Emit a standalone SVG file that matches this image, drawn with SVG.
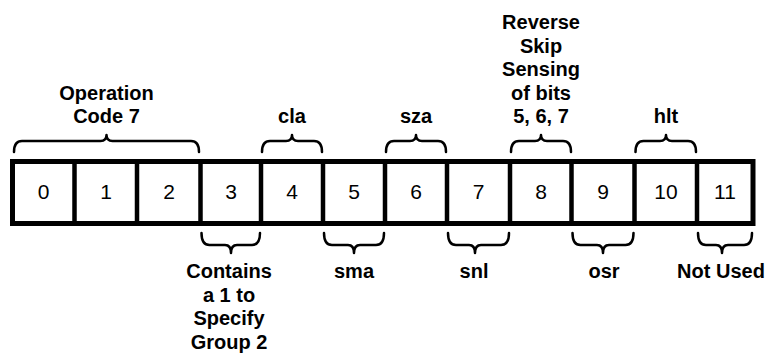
<svg xmlns="http://www.w3.org/2000/svg" width="770" height="353" viewBox="0 0 770 353">
<style>
.lbl{font-family:"Liberation Sans",Arial,sans-serif;font-size:20px;font-weight:bold;fill:#000;text-anchor:middle}
.num{font-family:"Liberation Sans",Arial,sans-serif;font-size:21px;fill:#000;text-anchor:middle}
.brace{fill:none;stroke:#000;stroke-width:2.5;stroke-linecap:round;stroke-linejoin:round}
.div{stroke:#000;stroke-width:4.5}
</style>
<rect width="770" height="353" fill="#fff"/>
<g id="register">
<rect x="12.5" y="161.5" width="740.5" height="62" fill="#fff" stroke="#000" stroke-width="5"/>
<line class="div" x1="74.5" y1="161.5" x2="74.5" y2="223.5"/>
<line class="div" x1="137" y1="161.5" x2="137" y2="223.5"/>
<line class="div" x1="200.5" y1="161.5" x2="200.5" y2="223.5"/>
<line class="div" x1="261" y1="161.5" x2="261" y2="223.5"/>
<line class="div" x1="323" y1="161.5" x2="323" y2="223.5"/>
<line class="div" x1="385" y1="161.5" x2="385" y2="223.5"/>
<line class="div" x1="447" y1="161.5" x2="447" y2="223.5"/>
<line class="div" x1="510" y1="161.5" x2="510" y2="223.5"/>
<line class="div" x1="571.5" y1="161.5" x2="571.5" y2="223.5"/>
<line class="div" x1="634.5" y1="161.5" x2="634.5" y2="223.5"/>
<line class="div" x1="697" y1="161.5" x2="697" y2="223.5"/>
</g>
<g id="bits">
<text class="num" x="43.5" y="199">0</text>
<text class="num" x="106" y="199">1</text>
<text class="num" x="169" y="199">2</text>
<text class="num" x="231" y="199">3</text>
<text class="num" x="292" y="199">4</text>
<text class="num" x="354" y="199">5</text>
<text class="num" x="416" y="199">6</text>
<text class="num" x="478.5" y="199">7</text>
<text class="num" x="541" y="199">8</text>
<text class="num" x="603" y="199">9</text>
<text class="num" x="666" y="199">10</text>
<text class="num" x="725" y="199">11</text>
</g>
<g id="connectors">
<path class="brace" d="M14,152 Q14,141 22,141 L100.5,141 Q106.5,141 106.5,135 Q106.5,141 112.5,141 L191,141 Q199,141 199,152"/>
<path class="brace" d="M262,152 Q262,141 270,141 L286,141 Q292,141 292,135 Q292,141 298,141 L314,141 Q322,141 322,152"/>
<path class="brace" d="M386,152 Q386,141 394,141 L410,141 Q416,141 416,135 Q416,141 422,141 L438,141 Q446,141 446,152"/>
<path class="brace" d="M511,152 Q511,141 519,141 L535,141 Q541,141 541,135 Q541,141 547,141 L563,141 Q571,141 571,152"/>
<path class="brace" d="M635.5,152 Q635.5,141 643.5,141 L660,141 Q666,141 666,135 Q666,141 672,141 L688,141 Q696,141 696,152"/>
<path class="brace" d="M201.5,233 Q201.5,245 209.5,245 L225,245 Q231,245 231,253 Q231,245 237,245 L252,245 Q260,245 260,233"/>
<path class="brace" d="M324,233 Q324,245 332,245 L348,245 Q354,245 354,253 Q354,245 360,245 L376,245 Q384,245 384,233"/>
<path class="brace" d="M448,233 Q448,245 456,245 L469,245 Q475,245 475,253 Q475,245 481,245 L501,245 Q509,245 509,233"/>
<path class="brace" d="M572.5,233 Q572.5,245 580.5,245 L597,245 Q603,245 603,253 Q603,245 609,245 L625.5,245 Q633.5,245 633.5,233"/>
<path class="brace" d="M698,233 Q698,245 706,245 L716,245 Q722,245 722,253 Q722,245 728,245 L744,245 Q752,245 752,233"/>
</g>
<g id="label-opcode">
<text class="lbl" x="106.5" y="100">Operation</text>
<text class="lbl" x="106.5" y="123">Code 7</text>
</g>
<g id="label-cla"><text class="lbl" x="292" y="123">cla</text></g>
<g id="label-sza"><text class="lbl" x="416" y="123">sza</text></g>
<g id="label-reverse">
<text class="lbl" x="541" y="29">Reverse</text>
<text class="lbl" x="541" y="52.5">Skip</text>
<text class="lbl" x="541" y="76">Sensing</text>
<text class="lbl" x="541" y="99.5">of bits</text>
<text class="lbl" x="541" y="123">5, 6, 7</text>
</g>
<g id="label-hlt"><text class="lbl" x="666" y="123">hlt</text></g>
<g id="label-group">
<text class="lbl" x="229" y="278">Contains</text>
<text class="lbl" x="229" y="301.5">a 1 to</text>
<text class="lbl" x="229" y="325">Specify</text>
<text class="lbl" x="229" y="348.5">Group 2</text>
</g>
<g id="label-sma"><text class="lbl" x="354" y="278">sma</text></g>
<g id="label-snl"><text class="lbl" x="474" y="278">snl</text></g>
<g id="label-osr"><text class="lbl" x="604" y="278">osr</text></g>
<g id="label-notused"><text class="lbl" x="721" y="278">Not Used</text></g>
</svg>
